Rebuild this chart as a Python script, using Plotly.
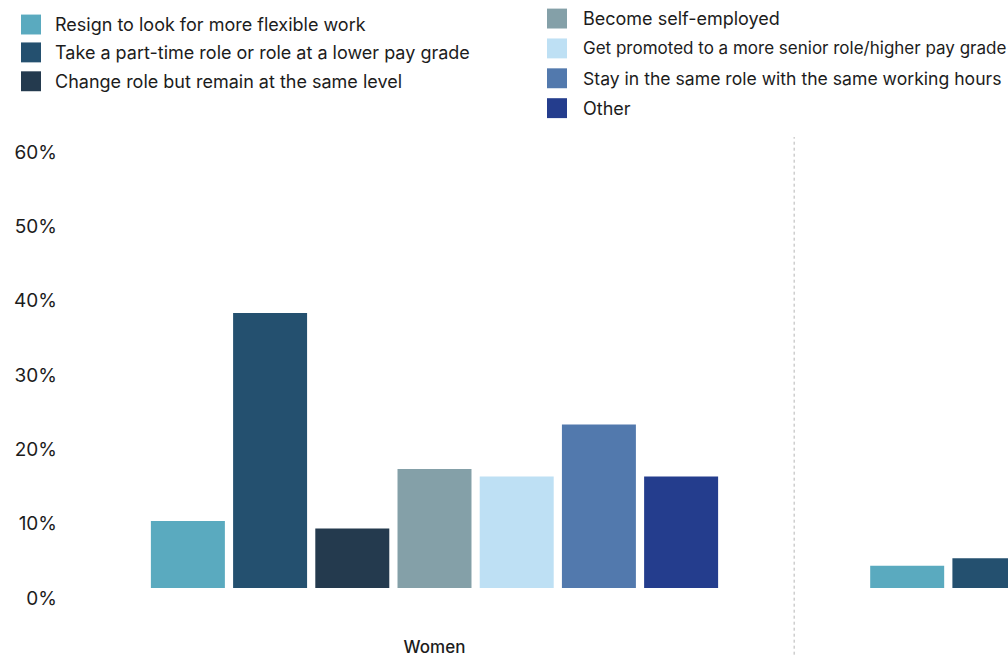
import plotly.graph_objects as go

# Survey answers: what respondents would do, by gender (percent)
groups = ["Women", "Men"]
options = [
    "Resign to look for more flexible work",
    "Take a part-time role or role at a lower pay grade",
    "Change role but remain at the same level",
    "Become self-employed",
    "Get promoted to a more senior role/higher pay grade",
    "Stay in the same role with the same working hours",
    "Other",
]
women = [9, 37, 8, 16, 15, 22, 15]
men = [3, 4, None, None, None, None, None]
colors = ["#5AAABF", "#24506F", "#243A4E", "#84A0A8", "#BEE0F4", "#5279AD", "#243D8D"]
y_ticks = [0, 10, 20, 30, 40, 50, 60]
y_tick_text = [f"{v}%" for v in y_ticks]

FONT = "Inter"
TEXT = "#1c1c1c"
FIG_W, FIG_H = 1008, 657
L, R, T, B = 58, 0, 142, 67
PW, PH = FIG_W - L - R, FIG_H - T - B


def px_x(p):
    return (p - L) / PW


def px_y(p):
    return (FIG_H - B - p) / PH


fig = go.Figure()
for i, name in enumerate(options):
    fig.add_trace(go.Bar(
        x=groups,
        y=[women[i], men[i]],
        name=name,
        marker=dict(color=colors[i], line=dict(width=0)),
        showlegend=False,
        hovertemplate="%{x}: %{y}%<extra>" + name + "</extra>",
    ))

# Two-column key drawn above the plot
left_rows = [24, 52, 81]
right_rows = [18, 48, 78, 108]
key_sizes = [18, 18, 18, 18, 17, 17.6, 18]
shapes = []
annotations = []
for i, name in enumerate(options):
    if i < 3:
        sx, tx, cy = 21, 53, left_rows[i]
    else:
        sx, tx, cy = 547, 581, right_rows[i - 3]
    shapes.append(dict(
        type="rect", xref="paper", yref="paper",
        x0=px_x(sx), x1=px_x(sx + 20), y0=px_y(cy - 10), y1=px_y(cy + 10),
        fillcolor=colors[i], line=dict(width=0),
    ))
    annotations.append(dict(
        xref="paper", yref="paper", x=px_x(tx), y=px_y(cy),
        xanchor="left", yanchor="middle", showarrow=False,
        text=name, font=dict(family=FONT, size=key_sizes[i], color=TEXT),
    ))

# Dotted divider between the two groups
shapes.append(dict(
    type="line", xref="x", yref="paper", x0=0.5, x1=0.5,
    y0=px_y(FIG_H), y1=px_y(137),
    line=dict(color="#b5b5b5", width=1, dash="dot"),
))

fig.update_layout(
    width=FIG_W, height=FIG_H,
    margin=dict(l=L, r=R, t=T, b=B),
    paper_bgcolor="white", plot_bgcolor="white",
    barmode="group", bargap=0.2, bargroupgap=0.1,
    shapes=shapes, annotations=annotations,
    font=dict(family=FONT, color=TEXT),
    xaxis=dict(
        range=[(L - 434.5) / 719.3, (FIG_W - 434.5) / 719.3],
        showgrid=False, zeroline=False, showline=False, ticks="",
        tickfont=dict(family=FONT, size=17, color=TEXT, weight=500),
        ticklabelstandoff=47,
    ),
    yaxis=dict(
        range=[0, 60], tickvals=y_ticks, ticktext=y_tick_text,
        showgrid=False, zeroline=False, showline=False, ticks="",
        tickfont=dict(family=FONT, size=19, color=TEXT),
        ticklabelshift=10,
    ),
)

fig.write_html("out.html")
